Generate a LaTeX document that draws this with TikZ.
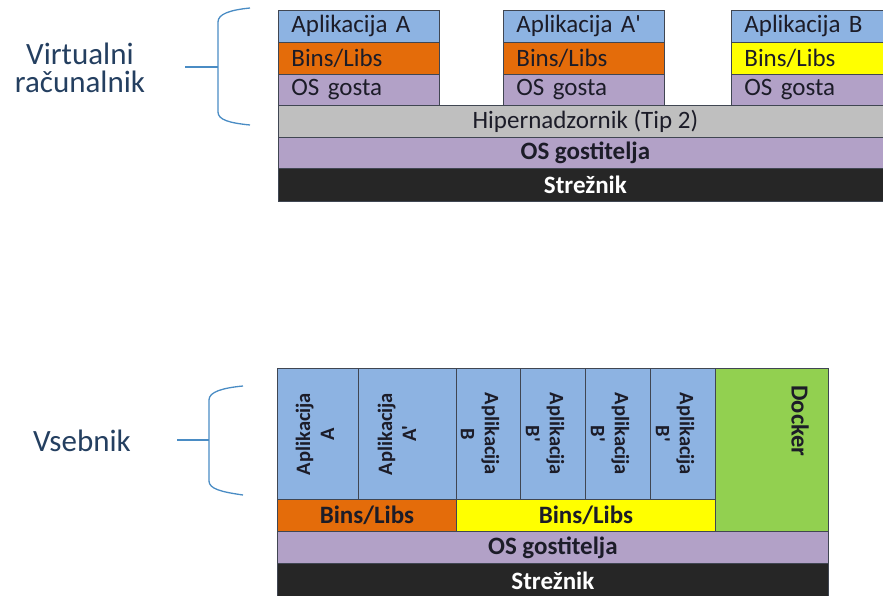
\documentclass[tikz,border=0pt]{standalone}
\usepackage{fontspec}
\setmainfont{Carlito}[Ligatures=TeXOff]
\definecolor{appblue}{HTML}{8DB3E2}
\definecolor{binorange}{HTML}{E46C0A}
\definecolor{binyellow}{HTML}{FFFF00}
\definecolor{ospurple}{HTML}{B2A1C7}
\definecolor{hypgray}{HTML}{BFBFBF}
\definecolor{hostblack}{HTML}{262626}
\definecolor{dockgreen}{HTML}{92D050}
\definecolor{edge}{HTML}{404652}
\definecolor{ink}{HTML}{1C1C28}
\definecolor{labelink}{HTML}{243F60}
\definecolor{bracecol}{HTML}{4A8CC4}
\begin{document}
\begin{tikzpicture}[x=1pt,y=-1pt,
  layer/.style={draw=edge, line width=0.8pt, inner sep=0pt, anchor=north west,
    text=ink, font=\fontsize{25}{30}\selectfont},
  vmrow/.style={layer, minimum height=#1, text width=135pt, inner xsep=13pt,
    align=left},
  bar/.style={layer, minimum height=32pt},
  cell/.style={draw=edge, line width=0.8pt, inner sep=0pt, anchor=north west},
  apptext/.style={text=ink, align=center, inner sep=0pt,
    font=\fontsize{20.5}{24}\selectfont\bfseries},
  sidelabel/.style={text=labelink, align=center, inner sep=0pt,
    font=\fontsize{31}{28}\selectfont},
  brace/.style={draw=bracecol, line width=1.3pt}
]
\useasboundingbox (0,0) rectangle (883,596);
\clip (0,0) rectangle (883,596);

% ---------- virtual machines ----------
\node[vmrow=32pt, fill=appblue]   (vmA)  at (278,10) {Aplikacija A};
\node[vmrow=32pt, fill=binorange] (binA) at (278,42) {Bins/Libs};
\node[vmrow=31pt, fill=ospurple]  (osA)  at (278,74) {OS gosta};

\node[vmrow=32pt, fill=appblue]   (vmAp)  at (503,10) {Aplikacija A'};
\node[vmrow=32pt, fill=binorange] (binAp) at (503,42) {Bins/Libs};
\node[vmrow=31pt, fill=ospurple]  (osAp)  at (503,74) {OS gosta};

\node[vmrow=32pt, fill=appblue]   (vmB)  at (731,10) {Aplikacija B};
\node[vmrow=32pt, fill=binyellow] (binB) at (731,42) {Bins/Libs};
\node[vmrow=31pt, fill=ospurple]  (osB)  at (731,74) {OS gosta};

\node[bar, fill=hypgray, minimum width=614pt, minimum height=32pt] (hyp) at (278,105)
  {Hipernadzornik (Tip 2)};
\node[bar, fill=ospurple, minimum width=614pt, minimum height=31pt,
  font=\fontsize{25}{30}\selectfont\bfseries] (hostosA) at (278,137) {OS gostitelja};
\node[bar, fill=hostblack, minimum width=614pt, minimum height=33pt, text=white,
  font=\fontsize{25}{30}\selectfont\bfseries] (srvA) at (278,168) {Strežnik};

% label and brace for the virtual machines
\node[sidelabel] (vmlabel) at (80,68) {Virtualni\\računalnik};
\coordinate (bt1) at (250,8);
\coordinate (bb1) at (250,125);
\coordinate (bm1) at (218,67);
\coordinate (bl1) at (185,67);
\draw[brace] (bt1) .. controls (230,10) and (218,14) .. (218,22)
  -- (218,112) .. controls (218,120) and (230,123) .. (bb1);
\draw[brace] (bl1) -- (bm1);

% ---------- containers ----------
\node[cell, fill=appblue, minimum width=81pt, minimum height=131pt]  (cA)   at (277,368) {};
\node[cell, fill=appblue, minimum width=98pt, minimum height=131pt]  (cAp)  at (358,368) {};
\node[cell, fill=appblue, minimum width=64pt, minimum height=131pt]  (cB)   at (456,368) {};
\node[cell, fill=appblue, minimum width=65pt, minimum height=131pt]  (cBp1) at (520,368) {};
\node[cell, fill=appblue, minimum width=65pt, minimum height=131pt]  (cBp2) at (585,368) {};
\node[cell, fill=appblue, minimum width=65pt, minimum height=131pt]  (cBp3) at (650,368) {};
\node[cell, fill=dockgreen, minimum width=113pt, minimum height=163pt] (dock) at (715,368) {};

\node[apptext, rotate=90]  (tA)   at (315,434) {Aplikacija\\A};
\node[apptext, rotate=90]  (tAp)  at (397,434) {Aplikacija\\A'};
\node[apptext, rotate=-90] (tB)   at (480,434) {Aplikacija\\B};
\node[apptext, rotate=-90] (tBp1) at (545,434) {Aplikacija\\B'};
\node[apptext, rotate=-90] (tBp2) at (610,434) {Aplikacija\\B'};
\node[apptext, rotate=-90] (tBp3) at (675,434) {Aplikacija\\B'};
\node[apptext, rotate=-90, font=\fontsize{24.5}{28}\selectfont\bfseries]
  (tDock) at (800,421) {Docker};

\node[bar, fill=binorange, minimum width=179pt, minimum height=32pt,
  font=\fontsize{25}{30}\selectfont\bfseries] (cbinA) at (277,499) {Bins/Libs};
\node[bar, fill=binyellow, minimum width=259pt, minimum height=32pt,
  font=\fontsize{25}{30}\selectfont\bfseries] (cbinB) at (456,499) {Bins/Libs};
\node[bar, fill=ospurple, minimum width=551pt, minimum height=32pt,
  font=\fontsize{25}{30}\selectfont\bfseries] (hostosC) at (277,531) {OS gostitelja};
\node[bar, fill=hostblack, minimum width=551pt, minimum height=35pt, text=white,
  font=\fontsize{25}{30}\selectfont\bfseries] (srvC) at (277,563) {Strežnik};

% label and brace for the containers
\node[sidelabel] (ctlabel) at (82,441) {Vsebnik};
\coordinate (bt2) at (243,386);
\coordinate (bb2) at (243,495);
\coordinate (bm2) at (209,440);
\coordinate (bl2) at (177,440);
\draw[brace] (bt2) .. controls (222,388) and (209,392) .. (209,400)
  -- (209,481) .. controls (209,489) and (222,492) .. (bb2);
\draw[brace] (bl2) -- (bm2);
\end{tikzpicture}
\end{document}
